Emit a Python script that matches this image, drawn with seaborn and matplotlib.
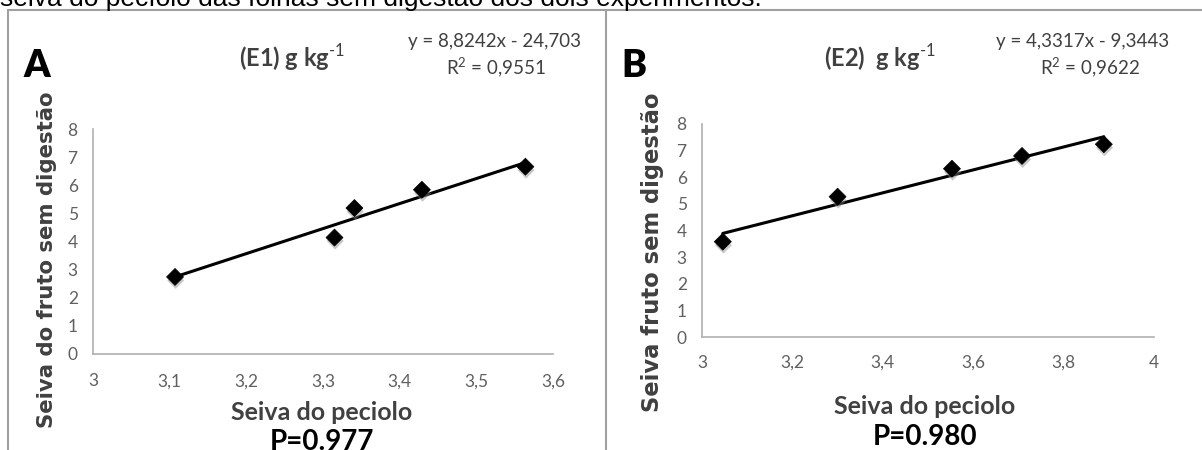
import matplotlib
matplotlib.use("Agg")
import matplotlib.pyplot as plt
import matplotlib.patheffects as pe
from matplotlib.lines import Line2D
from matplotlib.ticker import FuncFormatter
import seaborn as sns
import pandas as pd

# ---- data ----
x_e1 = [3.107, 3.315, 3.341, 3.429, 3.564]
y_e1 = [2.74, 4.14, 5.19, 5.84, 6.66]
x_e2 = [3.046, 3.30, 3.553, 3.708, 3.889]
y_e2 = [3.58, 5.27, 6.32, 6.80, 7.24]

xticks_e1 = [3.0, 3.1, 3.2, 3.3, 3.4, 3.5, 3.6]
xticks_e2 = [3.0, 3.2, 3.4, 3.6, 3.8, 4.0]
yticks = [0, 1, 2, 3, 4, 5, 6, 7, 8]

panel_letters = ["A", "B"]
titles = ["(E1) g kg$^{\\text{-}1}$", "(E2)  g kg$^{\\text{-}1}$"]
equations = ["y = 8,8242x - 24,703", "y = 4,3317x - 9,3443"]
r2_texts = ["R$^2$ = 0,9551", "R$^2$ = 0,9622"]
ylabels = ["Seiva do fruto sem digestão", "Seiva fruto sem digestão"]
xlabel = "Seiva do peciolo"
p_texts = ["P=0.977", "P=0.980"]
caption = "seiva do pecíolo das folhas sem digestão dos dois experimentos."

sns.set_style("white")
plt.rcParams["font.family"] = ["Lato", "DejaVu Sans"]
plt.rcParams["mathtext.fontset"] = "custom"
plt.rcParams["mathtext.rm"] = "Lato"
plt.rcParams["mathtext.bf"] = "Lato:bold"

W, H = 1202, 450
fig = plt.figure(figsize=(W / 100, H / 100), dpi=100)


def fx(px):
    return px / W


def fy(py):
    return 1 - py / H


def comma_fmt(v, pos):
    s = ("%.1f" % v).rstrip("0").rstrip(".")
    return s.replace(".", ",")


specs = [
    dict(left=93, right=553, top=129, bottom=354, xlim=(3.0, 3.6), xt=xticks_e1,
         x=x_e1, y=y_e1, xpad=14, ypad=11),
    dict(left=702, right=1154, top=124, bottom=337, xlim=(3.0, 4.0), xt=xticks_e2,
         x=x_e2, y=y_e2, xpad=13, ypad=11),
]

grey_txt = "#606060"
shadow = [pe.SimplePatchShadow(offset=(0.5, -2.5), shadow_rgbFace="#888888", alpha=0.45),
          pe.Normal()]

for i, sp in enumerate(specs):
    ax = fig.add_axes([fx(sp["left"]), fy(sp["bottom"]),
                       fx(sp["right"] - sp["left"]), (sp["bottom"] - sp["top"]) / H])
    df = pd.DataFrame({"x": sp["x"], "y": sp["y"]})
    sns.regplot(data=df, x="x", y="y", ax=ax, scatter=False, ci=None, truncate=True,
                line_kws=dict(color="black", lw=2.2))
    sns.scatterplot(data=df, x="x", y="y", ax=ax, marker="D", s=75, color="black",
                    edgecolor="black", linewidth=0.5, zorder=5, path_effects=shadow)
    ax.set_xlim(*sp["xlim"])
    ax.set_ylim(0, 8)
    ax.set_xticks(sp["xt"])
    ax.set_yticks(yticks)
    ax.xaxis.set_major_formatter(FuncFormatter(comma_fmt))
    ax.tick_params(axis="x", length=0, pad=sp["xpad"], labelsize=12.5, labelcolor=grey_txt)
    ax.tick_params(axis="y", length=0, pad=sp["ypad"], labelsize=12.5, labelcolor=grey_txt)
    for s in ["top", "right"]:
        ax.spines[s].set_visible(False)
    for s in ["left", "bottom"]:
        ax.spines[s].set_color("#b0b0b0")
        ax.spines[s].set_linewidth(1.2)
    ax.set_xlabel("")
    ax.set_ylabel("")
    ax.set_facecolor("white")

# panel texts
letter_pos = [(37, 66), (634, 66)]
title_pos = [(292, 58), (880, 58)]
eq_pos = [(494, 42), (1083, 42)]
r2_pos = [(496, 68), (1090, 68)]
ylab_pos = [(47, 260), (652, 252)]
ylab_size = [15.3, 16.3]
xlab_pos = [(322, 413), (925, 406)]
p_pos = [(322, 442), (925, 437)]

for i in range(2):
    fig.text(fx(letter_pos[i][0]), fy(letter_pos[i][1]), panel_letters[i], fontsize=27,
             fontweight="heavy", color="black", ha="center", va="center")
    fig.text(fx(title_pos[i][0]), fy(title_pos[i][1]), titles[i], fontsize=17,
             fontweight="bold", color="#404040", ha="center", va="center")
    fig.text(fx(eq_pos[i][0]), fy(eq_pos[i][1]), equations[i], fontsize=13.5,
             color="#404040", ha="center", va="center")
    fig.text(fx(r2_pos[i][0]), fy(r2_pos[i][1]), r2_texts[i], fontsize=13.5,
             color="#404040", ha="center", va="center")
    fig.text(fx(ylab_pos[i][0]), fy(ylab_pos[i][1]), ylabels[i], fontsize=ylab_size[i],
             fontweight="bold", color="#404040", ha="center", va="center",
             rotation=90, family="DejaVu Sans")
    fig.text(fx(xlab_pos[i][0]), fy(xlab_pos[i][1]), xlabel, fontsize=18,
             fontweight="bold", color="#404040", ha="center", va="center")
    fig.text(fx(p_pos[i][0]), fy(p_pos[i][1]), p_texts[i], fontsize=20,
             fontweight="bold", color="black", ha="center", va="center")

# caption (cut off at top)
fig.text(fx(0), fy(6), caption, fontsize=19, color="black", ha="left", va="baseline",
         family="Liberation Sans")

# frame lines
lc = "#a0a0a0"
fig.add_artist(Line2D([fx(8), fx(1202)], [fy(10), fy(10)], color=lc, lw=1.5))
fig.add_artist(Line2D([fx(8), fx(8)], [fy(10), fy(450)], color=lc, lw=1.5))
fig.add_artist(Line2D([fx(606), fx(606)], [fy(10), fy(450)], color=lc, lw=1.5))

fig.savefig("out.png", dpi=100, facecolor="white")
